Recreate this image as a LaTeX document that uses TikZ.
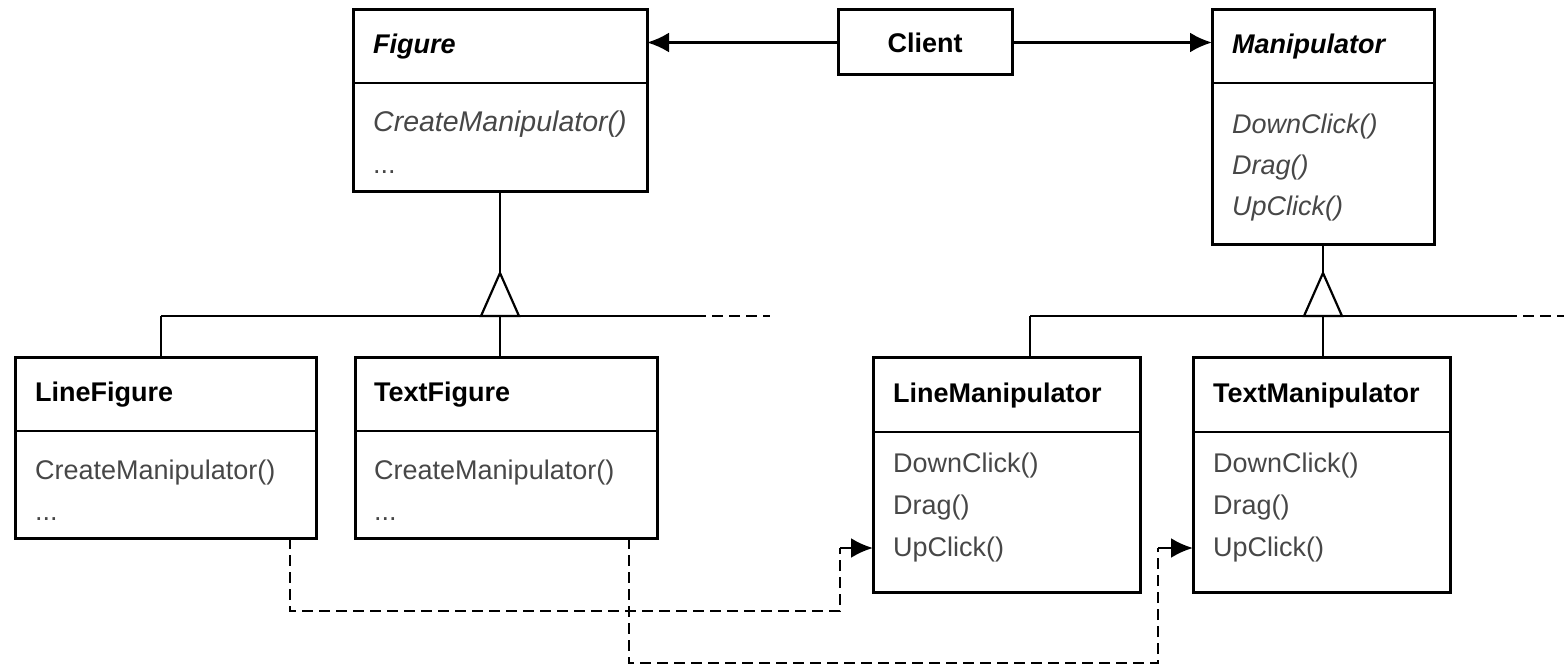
\documentclass[tikz,border=0pt]{standalone}
\usepackage{fontspec}
\setmainfont{Liberation Sans}
\usetikzlibrary{arrows.meta,calc}
\begin{document}
\begin{tikzpicture}[x=1pt,y=1pt,
  cls/.style={draw, line width=3pt, rectangle, inner sep=0pt, outer sep=0pt, anchor=north west},
  ttl/.style={anchor=base west, inner sep=0pt, font=\fontsize{27}{32}\selectfont\bfseries},
  attl/.style={anchor=base west, inner sep=0pt, font=\fontsize{27}{32}\selectfont\bfseries\itshape},
  op/.style={anchor=base west, inner sep=0pt, text=black!72, font=\fontsize{27}{32}\selectfont},
  aop/.style={anchor=base west, inner sep=0pt, text=black!72, font=\fontsize{27}{32}\selectfont\itshape},
  link/.style={line width=2.8pt},
  tri/.style={line width=2.2pt, line join=miter},
  dep/.style={line width=2.8pt, dash pattern=on 11pt off 6pt},
  head/.style={-{Latex[length=22pt,width=20pt]}},
  ]
\useasboundingbox (0,0) rectangle (1564,-666);

% ---- Figure ----
\node[cls, minimum width=294pt, minimum height=181pt] (fig) at (353,-10) {};
\draw[link] ([yshift=-73pt]fig.north west) -- ([yshift=-73pt]fig.north east);
\node[attl] (figT) at (373,-54) {Figure};
\node[aop, font=\fontsize{28.5}{32}\selectfont\itshape] (figO1) at (373,-132) {CreateManipulator()};
\node[op] (figO2) at (373,-174) {...};

% ---- Client ----
\node[draw, line width=3pt, minimum width=174pt, minimum height=65pt, inner sep=0pt, outer sep=0pt,
      font=\fontsize{27}{32}\selectfont\bfseries] (cli) at (925,-42.5) {Client};

% ---- Manipulator ----
\node[cls, minimum width=222pt, minimum height=234pt] (man) at (1212,-10) {};
\draw[link] ([yshift=-73pt]man.north west) -- ([yshift=-73pt]man.north east);
\node[attl] (manT) at (1232,-54) {Manipulator};
\node[aop] (manO1) at (1232,-134) {DownClick()};
\node[aop] (manO2) at (1232,-175) {Drag()};
\node[aop] (manO3) at (1232,-215) {UpClick()};

% ---- LineFigure ----
\node[cls, minimum width=301pt, minimum height=181pt] (lf) at (15,-357) {};
\draw[link] ([yshift=-74pt]lf.north west) -- ([yshift=-74pt]lf.north east);
\node[ttl] (lfT) at (35,-401) {LineFigure};
\node[op] (lfO1) at (35,-479) {CreateManipulator()};
\node[op] (lfO2) at (35,-520) {...};

% ---- TextFigure ----
\node[cls, minimum width=302pt, minimum height=181pt] (tf) at (355,-357) {};
\draw[link] ([yshift=-74pt]tf.north west) -- ([yshift=-74pt]tf.north east);
\node[ttl] (tfT) at (374,-401) {TextFigure};
\node[op] (tfO1) at (374,-479) {CreateManipulator()};
\node[op] (tfO2) at (374,-520) {...};

% ---- LineManipulator ----
\node[cls, minimum width=267pt, minimum height=235pt] (lm) at (873,-357) {};
\draw[link] ([yshift=-75pt]lm.north west) -- ([yshift=-75pt]lm.north east);
\node[ttl] (lmT) at (893,-402) {LineManipulator};
\node[op] (lmO1) at (893,-472) {DownClick()};
\node[op] (lmO2) at (893,-514) {Drag()};
\node[op] (lmO3) at (893,-556) {UpClick()};

% ---- TextManipulator ----
\node[cls, minimum width=257pt, minimum height=235pt] (tm) at (1193,-357) {};
\draw[link] ([yshift=-75pt]tm.north west) -- ([yshift=-75pt]tm.north east);
\node[ttl] (tmT) at (1213,-402) {TextManipulator};
\node[op] (tmO1) at (1213,-472) {DownClick()};
\node[op] (tmO2) at (1213,-514) {Drag()};
\node[op] (tmO3) at (1213,-556) {UpClick()};

% ---- associations from Client ----
\draw[link, head] (cli.west) -- (cli.west -| fig.east);
\draw[link, head] (cli.east) -- (cli.east -| man.west);

% ---- Figure inheritance ----
\coordinate (figA) at (500,-273);
\coordinate (figB) at (500,-316);
\coordinate (figL) at (161,-316);
\coordinate (figR) at (695,-316);
\coordinate (figE) at (770,-316);
\draw[link] (fig.south) -- (figA);
\draw[tri] (figA) -- ++(-19,-43) -- ++(38,0) -- cycle;
\draw[link] (figL) -- (figR);
\draw[dep] (figR) -- (figE);
\draw[link] (figL) -- (figL |- lf.north);
\draw[link] (figB) -- (figB |- tf.north);

% ---- Manipulator inheritance ----
\coordinate (manA) at (1323,-273);
\coordinate (manB) at (1323,-316);
\coordinate (manL) at (1030,-316);
\coordinate (manR) at (1506,-316);
\coordinate (manE) at (1564,-316);
\draw[link] (man.south) -- (manA);
\draw[tri] (manA) -- ++(-19,-43) -- ++(38,0) -- cycle;
\draw[link] (manL) -- (manR);
\draw[dep] (manR) -- (manE);
\draw[link] (manL) -- (manL |- lm.north);
\draw[link] (manB) -- (manB |- tm.north);

% ---- dependencies ----
\coordinate (d1a) at (290,-611);
\coordinate (d1b) at (840,-611);
\coordinate (d1c) at (840,-548);
\draw[dep] (lf.south -| d1a) -- (d1a) -- (d1b) -- (d1c);
\draw[link, head] (d1c) -- (d1c -| lm.west);

\coordinate (d2a) at (629,-663);
\coordinate (d2b) at (1158,-663);
\coordinate (d2c) at (1158,-548);
\draw[dep] (tf.south -| d2a) -- (d2a) -- (d2b) -- (d2c);
\draw[link, head] (d2c) -- (d2c -| tm.west);
\end{tikzpicture}
\end{document}
